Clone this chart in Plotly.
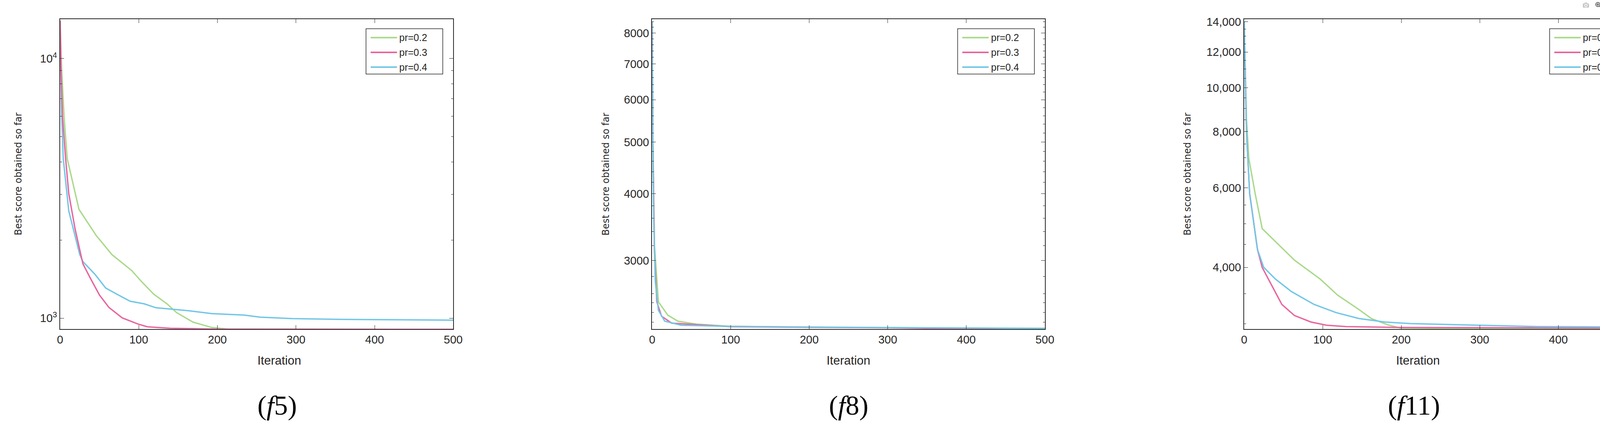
import plotly.graph_objects as go
import math

# ---- data (f5) ----
f5_g_x = [0, 1, 2, 5, 9, 24, 46, 66, 91, 103, 119, 136, 148, 169, 193, 214, 300, 400, 500]
f5_g_y = [14000, 11000, 9000, 6000, 4120, 2625, 2080, 1757, 1527, 1390, 1238, 1136, 1052, 966, 921, 908, 907, 906, 906]
f5_p_x = [0, 1, 3, 7, 11, 19, 29, 38, 50, 62, 79, 99, 111, 140, 200, 300, 400, 500]
f5_p_y = [14000, 9500, 6000, 4120, 3020, 2210, 1620, 1435, 1229, 1101, 1003, 950, 927, 915, 908, 907, 906, 906]
f5_b_x = [0, 1, 2, 4, 11, 25, 29, 44, 58, 74, 89, 107, 122, 164, 193, 234, 254, 295, 357, 500]
f5_b_y = [14000, 9000, 6000, 4120, 2590, 1757, 1652, 1480, 1307, 1229, 1163, 1136, 1097, 1068, 1042, 1028, 1010, 997, 990, 983]

# ---- data (f8) ----
f8_g_x = [0, 1, 2, 3, 8, 20, 33, 57, 98, 200, 300, 500]
f8_g_y = [8400, 5000, 4000, 3200, 2510, 2370, 2309, 2280, 2260, 2250, 2246, 2240]
f8_p_x = [0, 1, 2, 3, 6, 12, 25, 100, 300, 500]
f8_p_y = [8400, 5000, 3900, 3100, 2510, 2360, 2290, 2255, 2245, 2222]
f8_b_x = [0, 1, 2, 4, 8, 16, 37, 100, 300, 500]
f8_b_y = [8400, 4800, 3600, 2743, 2420, 2310, 2270, 2258, 2247, 2238]

# ---- data (f11) ----
f11_g_x = [0, 1, 3, 6, 14, 23, 46, 64, 97, 119, 146, 162, 183, 199, 293, 500]
f11_g_y = [14000, 12000, 8500, 6970, 5834, 4875, 4458, 4152, 3767, 3473, 3228, 3082, 2984, 2936, 2925, 2920]
f11_p_x = [0, 1, 3, 7, 17, 23, 34, 48, 64, 85, 105, 130, 200, 500]
f11_p_y = [14000, 11500, 8000, 5834, 4381, 4000, 3679, 3312, 3130, 3028, 2978, 2957, 2945, 2935]
f11_b_x = [0, 1, 3, 7, 17, 25, 40, 60, 89, 117, 146, 179, 212, 293, 375, 500]
f11_b_y = [14000, 11500, 8000, 5834, 4381, 4000, 3767, 3538, 3312, 3177, 3083, 3028, 3003, 2980, 2957, 2952]

names = ["pr=0.2", "pr=0.3", "pr=0.4"]
colors = ["#a9d98b", "#e8659e", "#72c6e6"]
captions = ["(<i>f</i>5)", "(<i>f</i>8)", "(<i>f</i>11)"]

panels = [
    [(f5_g_x, f5_g_y), (f5_p_x, f5_p_y), (f5_b_x, f5_b_y)],
    [(f8_g_x, f8_g_y), (f8_p_x, f8_p_y), (f8_b_x, f8_b_y)],
    [(f11_g_x, f11_g_y), (f11_p_x, f11_p_y), (f11_b_x, f11_b_y)],
]

W, H = 4266, 1108
xdoms = [(147, 1161), (1674, 2687), (3201, 4214)]
ytop, ybot = 40, 840
ydom = [1 - ybot / H, 1 - ytop / H]

FONT = "Liberation Sans Narrow, Arial Narrow, Liberation Sans"
fig = go.Figure()
tickfont = dict(family=FONT, size=29, color="#262626")

for i, series in enumerate(panels):
    ax = "" if i == 0 else str(i + 1)
    order = [0, 2, 1] if i == 0 else [0, 1, 2]
    for k in order:
        xs, ys = series[k]
        fig.add_trace(go.Scatter(x=xs, y=ys, mode="lines", name=names[k],
                                 line=dict(color=colors[k], width=3.5),
                                 xaxis="x" + ax, yaxis="y" + ax, showlegend=False))
    x0, x1 = xdoms[i]
    fig.layout["xaxis" + ax] = dict(
        domain=[x0 / W, x1 / W], range=[0, 500], tickvals=[0, 100, 200, 300, 400, 500],
        ticks="inside", ticklen=10, tickcolor="#262626", showline=True, linecolor="#262626",
        linewidth=2, mirror="ticks", showgrid=False, zeroline=False, tickfont=tickfont,
        anchor="y" + ax)
    lx0 = x1 - 225
    for k in range(3):
        yy = 88 + k * 38
        fig.add_shape(type="line", xref="paper", yref="paper",
                      x0=(lx0 + 12) / W, x1=(lx0 + 80) / W, y0=1 - yy / H, y1=1 - yy / H,
                      line=dict(color=colors[k], width=4))
        fig.add_annotation(x=(lx0 + 84) / W, y=1 - yy / H, xref="paper", yref="paper",
                           text=names[k], showarrow=False, xanchor="left", yanchor="middle",
                           font=dict(family=FONT, size=25, color="#262626"))
    fig.add_shape(type="rect", xref="paper", yref="paper",
                  x0=lx0 / W, x1=(x1 - 27) / W, y0=1 - 182 / H, y1=1 - 65 / H,
                  line=dict(color="#262626", width=1.5), fillcolor="rgba(255,255,255,0)")
    fig.add_annotation(x=(x0 + x1) / 2 / W, y=1 - 921 / H, xref="paper", yref="paper",
                       text="Iteration", showarrow=False, yanchor="middle",
                       font=dict(family=FONT, size=31, color="#262626"))
    fig.add_annotation(x=(x0 + x1) / 2 / W, y=1 - 1037 / H, xref="paper", yref="paper",
                       text=captions[i], showarrow=False, yanchor="middle",
                       font=dict(family="Liberation Serif", size=70, color="black"))

ytitle_x = [40, 1555, 3055]
for i in range(3):
    fig.add_annotation(x=ytitle_x[i] / W, y=(ydom[0] + ydom[1]) / 2, xref="paper", yref="paper",
                       text="Best score obtained so far", textangle=-90, showarrow=False,
                       xanchor="center", yanchor="middle",
                       font=dict(family="DejaVu Sans", size=24, color="#262626"))

common_y = dict(type="log", ticks="inside", ticklen=10, tickcolor="#262626", showline=True,
                linecolor="#262626", linewidth=2, mirror="ticks", showgrid=False, zeroline=False,
                tickfont=tickfont, domain=ydom)

fig.layout.yaxis = dict(common_y, range=[math.log10(908), math.log10(14200)],
                        tickvals=[1000, 10000], ticktext=["10<sup>3</sup>", "10<sup>4</sup>"],
                        minor=dict(tickvals=[2000, 3000, 4000, 5000, 6000, 7000, 8000, 9000],
                                   ticks="inside", ticklen=5, tickcolor="#262626"),
                        anchor="x")
fig.layout.yaxis2 = dict(common_y, range=[math.log10(2232), math.log10(8496)],
                         tickvals=[3000, 4000, 5000, 6000, 7000, 8000],
                         ticktext=["3000", "4000", "5000", "6000", "7000", "8000"],
                         minor=dict(tickvals=[2300, 2400, 2500, 2600, 2800] + list(range(3200, 8500, 200)),
                                    ticks="inside", ticklen=5, tickcolor="#262626"),
                         anchor="x2")
fig.layout.yaxis3 = dict(common_y, range=[math.log10(2920), math.log10(14200)],
                         tickvals=[4000, 6000, 8000, 10000, 12000, 14000],
                         ticktext=["4,000", "6,000", "8,000", "10,000", "12,000", "14,000"],
                         minor=dict(tickvals=[3000, 3500, 4500, 5000, 5500, 6500, 7000, 7500, 8500, 9000,
                                              9500, 10500, 11000, 11500, 12500, 13000, 13500],
                                    ticks="inside", ticklen=5, tickcolor="#262626"),
                         anchor="x3")

fig.update_layout(width=W, height=H, margin=dict(l=0, r=0, t=0, b=0),
                  plot_bgcolor="white", paper_bgcolor="white", showlegend=False)
fig.write_html("out.html")

with open("out.html", "r", encoding="utf-8") as fh:
    html = fh.read()
html = html.replace("<head>", "<head><style>html,body{margin:0;padding:0;overflow:hidden}</style>", 1)
with open("out.html", "w", encoding="utf-8") as fh:
    fh.write(html)
